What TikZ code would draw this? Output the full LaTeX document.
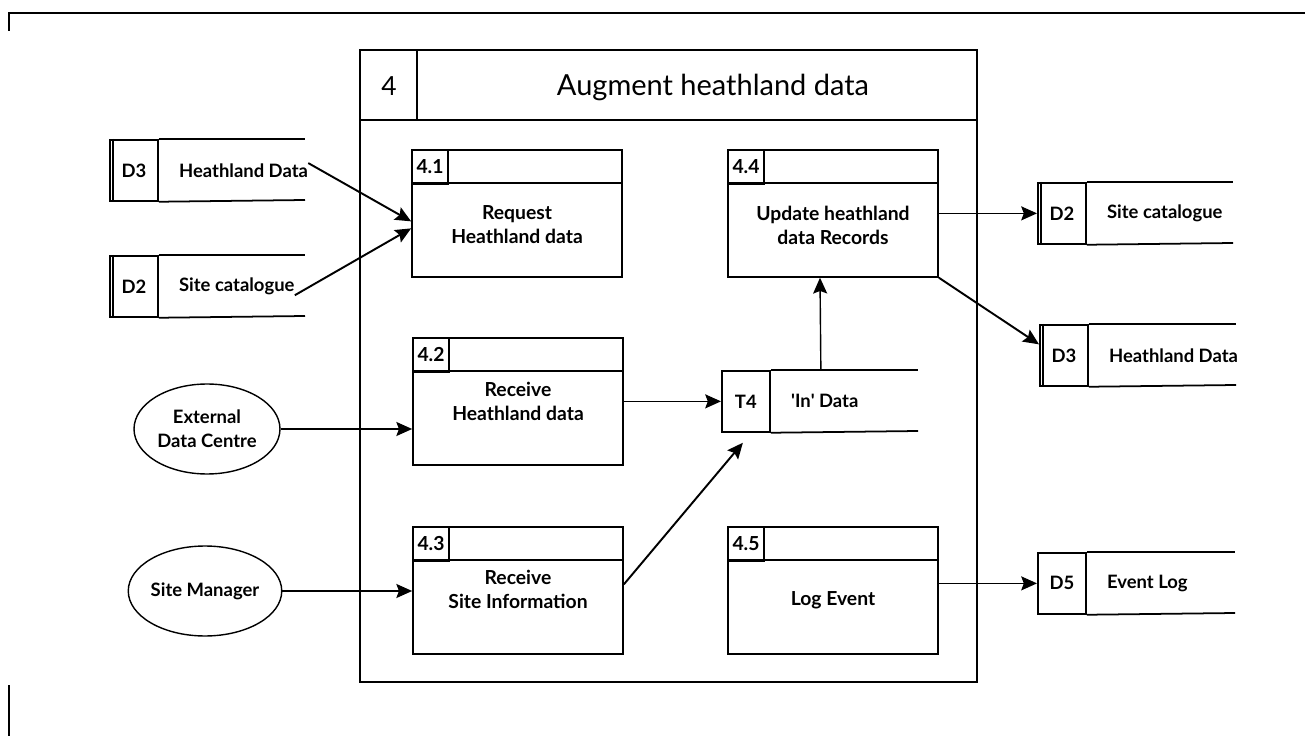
\documentclass[tikz,border=0pt]{standalone}
\usepackage{fontspec}
\setmainfont{Lato}
\usetikzlibrary{calc}
\usetikzlibrary{arrows.meta}
\usetikzlibrary{shapes.geometric}

\begin{document}
\begin{tikzpicture}[x=0.02cm,y=-0.02cm]

    % Tamanhos (caixas de processo e depositos)
    \def\pw{4.2cm}
    \def\ph{2.54cm}
    \def\hd{34}
    \def\sh{1.22cm}

    % Estilos
    \tikzstyle{proc} = [
      draw, rectangle, line width=1pt,
      minimum width=\pw, minimum height=\ph, inner sep=0pt
    ];
    \tikzstyle{idbox} = [
      draw, rectangle, line width=1pt, inner sep=1pt,
      minimum width=.72cm, minimum height=.68cm,
      font=\fontsize{11}{12}\selectfont\bfseries
    ];
    \tikzstyle{ptext} = [align=center, font=\fontsize{11}{13.6}\selectfont\bfseries];
    \tikzstyle{sid} = [
      draw, rectangle, line width=1pt, inner sep=1pt,
      minimum width=.96cm, minimum height=\sh,
      font=\fontsize{10.5}{12}\selectfont\bfseries
    ];
    \tikzstyle{slab} = [inner sep=0pt, font=\fontsize{10.5}{12}\selectfont\bfseries];
    \tikzstyle{ext} = [
      draw, ellipse, line width=.8pt, inner sep=0pt,
      minimum width=2.92cm, minimum height=1.8cm, align=center,
      font=\fontsize{10.5}{13.6}\selectfont\bfseries
    ];
    \tikzstyle{flow} = [line width=1.1pt, -{Stealth[length=9pt,width=8pt,inset=1.5pt]}];
    \tikzstyle{thinflow} = [line width=.8pt, -{Stealth[length=9pt,width=8pt,inset=1.5pt]}];

    \useasboundingbox (0,0) rectangle (1305,736);

    % Moldura cortada
    \draw[line width=1pt] (9,31) -- (9,13) -- (1305,13);
    \draw[line width=1pt] (9,685) -- (9,736);

    % Processo principal
    \draw[line width=1pt] (360,50) rectangle (977,682);
    \draw[line width=1pt] (360,120) -- (977,120);
    \draw[line width=1pt] (417,50) -- (417,120);
    \node[font=\fontsize{15}{16}\selectfont] (num) at (389,86) {4};
    \node[font=\fontsize{16.5}{18}\selectfont] (title) at (713,87) {Augment heathland data};

    % Subprocessos
    \foreach \n/\id/\x/\y in {p1/4.1/517/149, p2/4.2/518/337, p3/4.3/518/526,
                              p4/4.4/833/149, p5/4.5/833/526}
    {
      \node[proc, anchor=north] (\n) at (\x,\y) {};
      \draw[line width=1pt] ($(\n.north west)+(0,\hd)$) -- ($(\n.north east)+(0,\hd)$);
      \node[idbox, anchor=north west] (\n i) at (\n.north west) {\id};
    }

    % Textos dos subprocessos
    \foreach \n/\x/\y/\txt in {p1/517/225/{Request\\Heathland data},
                               p2/518/401/{Receive\\Heathland data},
                               p3/518/589/{Receive\\Site Information},
                               p4/833/225/{Update heathland\\data Records},
                               p5/833/600/{Log Event}}
    {
      \node[ptext] (\n t) at (\x,\y) {\txt};
    }

    % Depositos de dados (lado direito aberto)
    \foreach \n/\id/\txt/\x/\y/\e in {sa/D3/Heathland Data/109/139/305,
                                      sb/D2/Site catalogue/109/255/305,
                                      sc/D2/Site catalogue/1037/182/1233,
                                      sd/D3/Heathland Data/1039/324/1236,
                                      se/D5/Event Log/1037/552/1235,
                                      t4/T4/\textquotesingle In\textquotesingle{} Data/721/370/918}
    {
      \node[sid, anchor=north west] (\n) at (\x,\y) {\id};
      \draw[line width=1pt] (\n.north east) -- (\e,\y);
      \draw[line width=1pt] (\n.south east) -- (\e,\y+61);
      \node[slab, anchor=west] (\n L) at ($(\n.east)+(20,0)$) {\txt};
    }

    % Linha dupla dos depositos permanentes
    \foreach \n in {sa,sb,sc,sd}
      \draw[line width=.8pt] ($(\n.north west)+(4,0)$) -- ($(\n.south west)+(4,0)$);

    % Entidades externas
    \node[ext] (edc) at (207,429) {External\\Data Centre};
    \node[ext] (sm) at (205,591) {Site Manager};

    % Fluxos
    \draw[flow] (saL.north east) -- ($(p1.west)+(0,8)$);
    \draw[flow] (sbL.south east) -- ($(p1.west)+(0,15)$);
    \draw[thinflow] (edc.east) -- (edc.east -| p2.west);
    \draw[thinflow] (sm.east) -- (sm.east -| p3.west);
    \draw[thinflow] (p2.east) -- (p2.east -| t4.west);
    \draw[flow] ($(p3.east)+(0,-6)$) -- ($(t4.south)+(-3,10)$);
    \draw[thinflow] ($(t4.north)+(75,0)$) -- ($(p4.south)+(-13,0)$);
    \draw[thinflow] (p4.east) -- (p4.east -| sc.west);
    \draw[flow] (p4.south east) -- ($(sd.west)+(0,-11)$);
    \draw[thinflow] (p5.east |- se.west) -- (se.west);

\end{tikzpicture}
\end{document}
